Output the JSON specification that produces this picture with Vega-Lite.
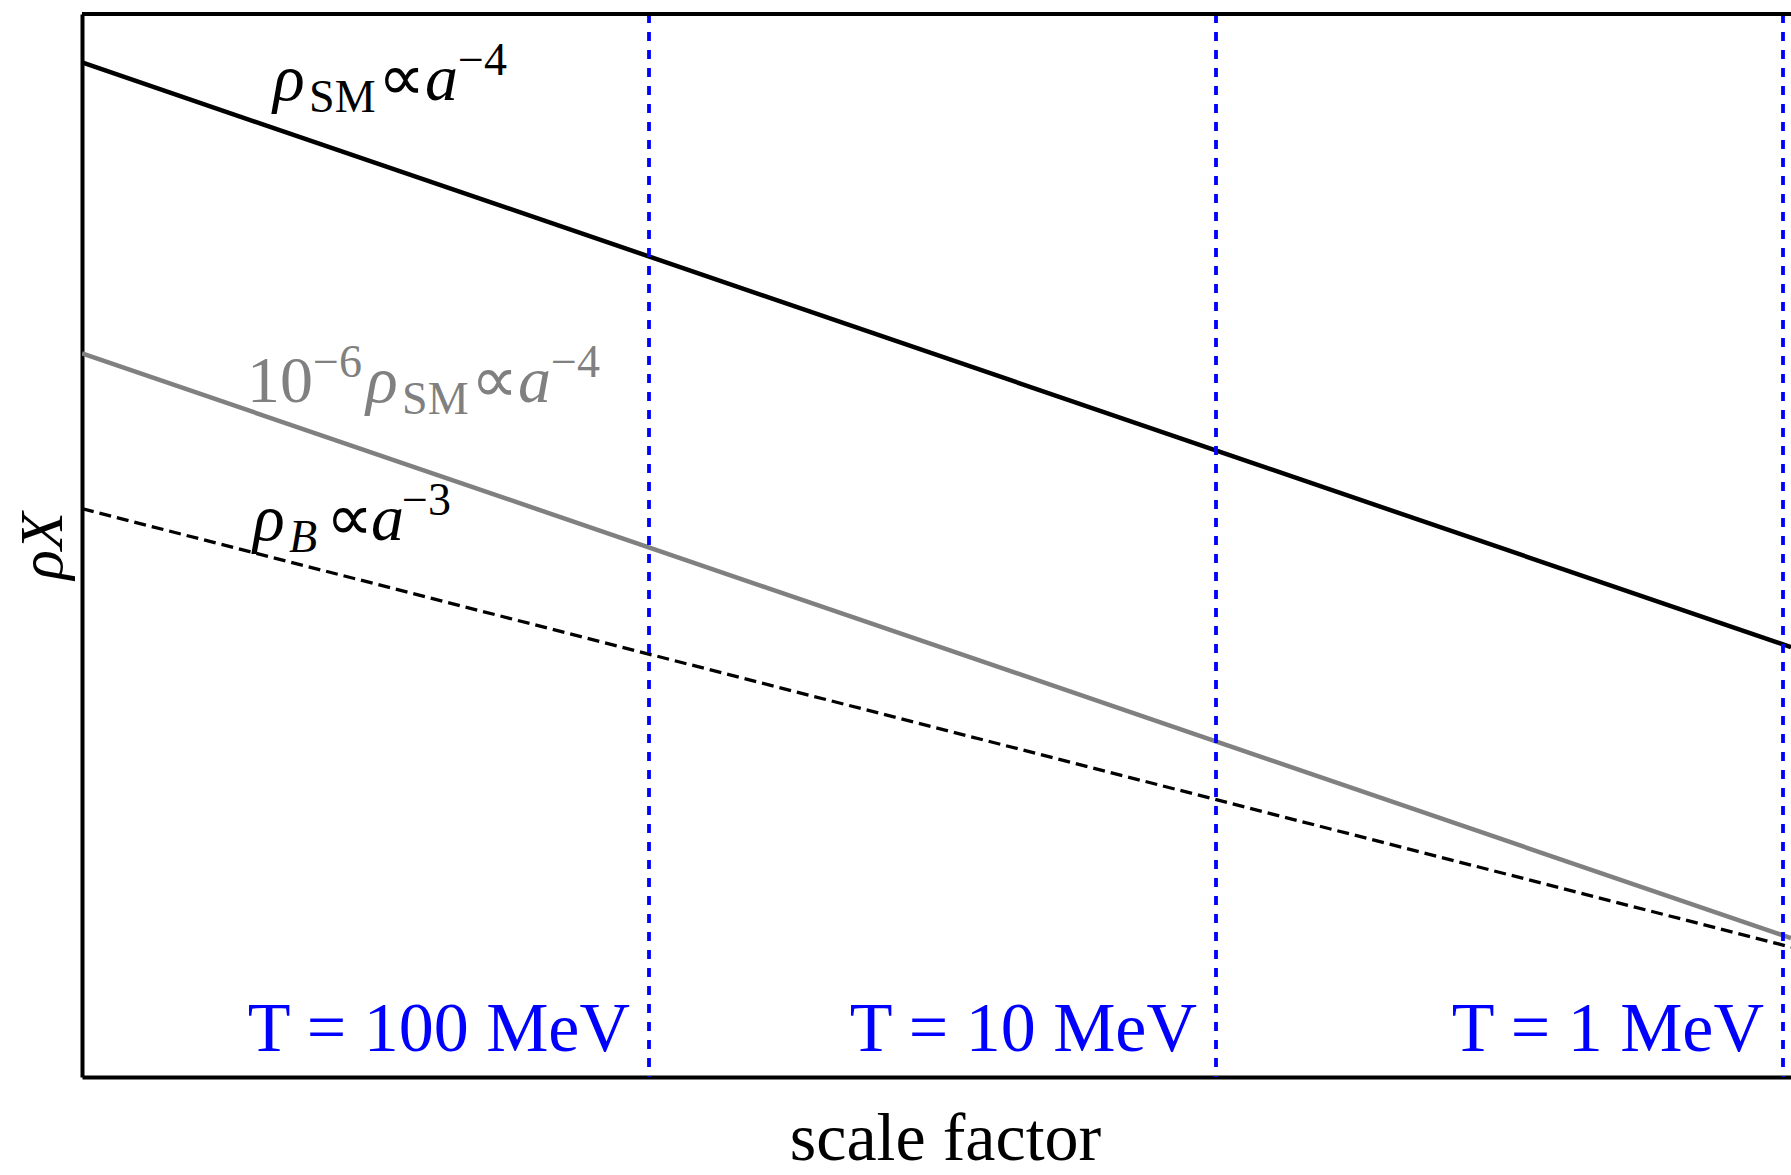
{
  "$schema": "https://vega.github.io/schema/vega-lite/v6.json",
  "width": 1709,
  "height": 1063,
  "autosize": {"type": "none"},
  "padding": {"left": 82, "top": 14, "right": 0, "bottom": 98},
  "background": "white",
  "config": {"view": {"stroke": null}, "text": {"font": "Liberation Serif"}},
  "datasets": {
    "curves": [
      {"series": "rho_SM", "log_a": 0, "log_rho": 21},
      {"series": "rho_SM", "log_a": 3.0141, "log_rho": 8.944},
      {"series": "rho_SM_scaled", "log_a": 0, "log_rho": 15},
      {"series": "rho_SM_scaled", "log_a": 3.0141, "log_rho": 2.944},
      {"series": "rho_B", "log_a": 0, "log_rho": 11.8},
      {"series": "rho_B", "log_a": 3.0141, "log_rho": 2.758}
    ],
    "temps": [
      {"log_a": 1, "log_rho": 0.62, "label": "T = 100 MeV"},
      {"log_a": 2, "log_rho": 0.62, "label": "T = 10 MeV"},
      {"log_a": 3, "log_rho": 0.62, "label": "T = 1 MeV"}
    ],
    "frame": [
      {"log_rho": 22}
    ],
    "ann": [
      {"id": "sm", "log_a": 0.337, "log_rho": 20.23, "rho": "ρ", "sub": "SM", "prop": "∝", "av": "a", "sup": "−4", "pre": "", "presup": ""},
      {"id": "scaled", "log_a": 0.501, "log_rho": 14.0, "rho": "ρ", "sub": "SM", "prop": "∝", "av": "a", "sup": "−4", "pre": "10", "presup": "−6"},
      {"id": "b", "log_a": 0.3016, "log_rho": 11.155, "rho": "ρ", "sub": "B", "prop": "∝", "av": "a", "sup": "−3", "pre": "", "presup": ""}
    ]
  },
  "layer": [
    {
      "data": {"name": "curves"},
      "transform": [{"filter": "datum.series === 'rho_SM'"}],
      "mark": {"type": "line", "color": "#000000", "strokeWidth": 4.5, "clip": true},
      "encoding": {
        "x": {
          "field": "log_a", "type": "quantitative",
          "scale": {"domain": [0, 3.0141], "nice": false, "zero": false},
          "axis": {
            "title": "scale factor", "titleFont": "Liberation Serif", "titleFontSize": 68,
            "titleFontWeight": "normal", "titleColor": "#000000",
            "titleX": 863, "titleY": 82, "titleAlign": "center", "titleBaseline": "alphabetic", "titleAngle": 0,
            "domain": true, "domainColor": "#000000", "domainWidth": 4,
            "ticks": false, "labels": false, "grid": false
          }
        },
        "y": {
          "field": "log_rho", "type": "quantitative",
          "scale": {"domain": [0.08, 22], "nice": false, "zero": false},
          "axis": {
            "title": "ρX", "titleFont": "Liberation Serif", "titleFontSize": 62, "titleFontStyle": "italic",
            "titleFontWeight": "normal", "titleColor": "#000000",
            "titleX": -40, "titleY": 531.5, "titleAlign": "center", "titleBaseline": "middle", "titleAngle": 270,
            "domain": true, "domainColor": "#000000", "domainWidth": 4,
            "ticks": false, "labels": false, "grid": false
          }
        }
      }
    },
    {
      "data": {"name": "curves"},
      "transform": [{"filter": "datum.series === 'rho_SM_scaled'"}],
      "mark": {"type": "line", "color": "#808080", "strokeWidth": 4.5, "clip": true},
      "encoding": {
        "x": {"field": "log_a", "type": "quantitative"},
        "y": {"field": "log_rho", "type": "quantitative"}
      }
    },
    {
      "data": {"name": "curves"},
      "transform": [{"filter": "datum.series === 'rho_B'"}],
      "mark": {"type": "line", "color": "#000000", "strokeWidth": 3.3, "strokeDash": [12, 6], "clip": true},
      "encoding": {
        "x": {"field": "log_a", "type": "quantitative"},
        "y": {"field": "log_rho", "type": "quantitative"}
      }
    },
    {
      "data": {"name": "temps"},
      "mark": {"type": "rule", "color": "#0000ff", "strokeWidth": 3.8, "strokeDash": [9, 9]},
      "encoding": {
        "x": {"field": "log_a", "type": "quantitative"}
      }
    },
    {
      "data": {"name": "temps"},
      "mark": {"type": "text", "font": "Liberation Serif", "fontSize": 70, "color": "#0000ff", "align": "right", "baseline": "alphabetic", "dx": -19},
      "encoding": {
        "x": {"field": "log_a", "type": "quantitative"},
        "y": {"field": "log_rho", "type": "quantitative"},
        "text": {"field": "label"}
      }
    },
    {
      "data": {"name": "frame"},
      "mark": {"type": "rule", "color": "#000000", "strokeWidth": 4},
      "encoding": {"y": {"field": "log_rho", "type": "quantitative"}}
    },
    {
      "data": {"name": "ann"},
      "mark": {"type": "text", "font": "Liberation Serif", "fontSize": 66, "fontStyle": "italic", "align": "left", "baseline": "alphabetic", "dx": 0},
      "encoding": {
        "x": {"field": "log_a", "type": "quantitative"},
        "y": {"field": "log_rho", "type": "quantitative"},
        "text": {"field": "rho"},
        "color": {"field": "id", "type": "nominal", "scale": {"domain": ["sm", "scaled", "b"], "range": ["#000000", "#808080", "#000000"]}, "legend": null}
      }
    },
    {
      "data": {"name": "ann"},
      "transform": [{"filter": "datum.id !== 'b'"}],
      "mark": {"type": "text", "font": "Liberation Serif", "fontSize": 46, "align": "left", "baseline": "alphabetic", "dx": 36, "dy": 12},
      "encoding": {
        "x": {"field": "log_a", "type": "quantitative"},
        "y": {"field": "log_rho", "type": "quantitative"},
        "text": {"field": "sub"},
        "color": {"field": "id", "type": "nominal", "legend": null}
      }
    },
    {
      "data": {"name": "ann"},
      "transform": [{"filter": "datum.id === 'b'"}],
      "mark": {"type": "text", "font": "Liberation Serif", "fontSize": 46, "fontStyle": "italic", "align": "left", "baseline": "alphabetic", "dx": 36, "dy": 12},
      "encoding": {
        "x": {"field": "log_a", "type": "quantitative"},
        "y": {"field": "log_rho", "type": "quantitative"},
        "text": {"field": "sub"},
        "color": {"field": "id", "type": "nominal", "legend": null}
      }
    },
    {
      "data": {"name": "ann"},
      "transform": [{"filter": "datum.id !== 'b'"}],
      "mark": {"type": "text", "font": "Liberation Serif", "fontSize": 66, "align": "left", "baseline": "alphabetic", "dx": 105},
      "encoding": {
        "x": {"field": "log_a", "type": "quantitative"},
        "y": {"field": "log_rho", "type": "quantitative"},
        "text": {"field": "prop"},
        "color": {"field": "id", "type": "nominal", "legend": null}
      }
    },
    {
      "data": {"name": "ann"},
      "transform": [{"filter": "datum.id !== 'b'"}],
      "mark": {"type": "text", "font": "Liberation Serif", "fontSize": 66, "fontStyle": "italic", "align": "left", "baseline": "alphabetic", "dx": 152},
      "encoding": {
        "x": {"field": "log_a", "type": "quantitative"},
        "y": {"field": "log_rho", "type": "quantitative"},
        "text": {"field": "av"},
        "color": {"field": "id", "type": "nominal", "legend": null}
      }
    },
    {
      "data": {"name": "ann"},
      "transform": [{"filter": "datum.id !== 'b'"}],
      "mark": {"type": "text", "font": "Liberation Serif", "fontSize": 46, "align": "left", "baseline": "alphabetic", "dx": 185, "dy": -25},
      "encoding": {
        "x": {"field": "log_a", "type": "quantitative"},
        "y": {"field": "log_rho", "type": "quantitative"},
        "text": {"field": "sup"},
        "color": {"field": "id", "type": "nominal", "legend": null}
      }
    },
    {
      "data": {"name": "ann"},
      "transform": [{"filter": "datum.id === 'b'"}],
      "mark": {"type": "text", "font": "Liberation Serif", "fontSize": 66, "align": "left", "baseline": "alphabetic", "dx": 73},
      "encoding": {
        "x": {"field": "log_a", "type": "quantitative"},
        "y": {"field": "log_rho", "type": "quantitative"},
        "text": {"field": "prop"},
        "color": {"field": "id", "type": "nominal", "legend": null}
      }
    },
    {
      "data": {"name": "ann"},
      "transform": [{"filter": "datum.id === 'b'"}],
      "mark": {"type": "text", "font": "Liberation Serif", "fontSize": 66, "fontStyle": "italic", "align": "left", "baseline": "alphabetic", "dx": 118},
      "encoding": {
        "x": {"field": "log_a", "type": "quantitative"},
        "y": {"field": "log_rho", "type": "quantitative"},
        "text": {"field": "av"},
        "color": {"field": "id", "type": "nominal", "legend": null}
      }
    },
    {
      "data": {"name": "ann"},
      "transform": [{"filter": "datum.id === 'b'"}],
      "mark": {"type": "text", "font": "Liberation Serif", "fontSize": 46, "align": "left", "baseline": "alphabetic", "dx": 149, "dy": -25},
      "encoding": {
        "x": {"field": "log_a", "type": "quantitative"},
        "y": {"field": "log_rho", "type": "quantitative"},
        "text": {"field": "sup"},
        "color": {"field": "id", "type": "nominal", "legend": null}
      }
    },
    {
      "data": {"name": "ann"},
      "transform": [{"filter": "datum.id === 'scaled'"}],
      "mark": {"type": "text", "font": "Liberation Serif", "fontSize": 66, "align": "left", "baseline": "alphabetic", "dx": -119},
      "encoding": {
        "x": {"field": "log_a", "type": "quantitative"},
        "y": {"field": "log_rho", "type": "quantitative"},
        "text": {"field": "pre"},
        "color": {"field": "id", "type": "nominal", "legend": null}
      }
    },
    {
      "data": {"name": "ann"},
      "transform": [{"filter": "datum.id === 'scaled'"}],
      "mark": {"type": "text", "font": "Liberation Serif", "fontSize": 46, "align": "left", "baseline": "alphabetic", "dx": -53, "dy": -25},
      "encoding": {
        "x": {"field": "log_a", "type": "quantitative"},
        "y": {"field": "log_rho", "type": "quantitative"},
        "text": {"field": "presup"},
        "color": {"field": "id", "type": "nominal", "legend": null}
      }
    }
  ]
}
